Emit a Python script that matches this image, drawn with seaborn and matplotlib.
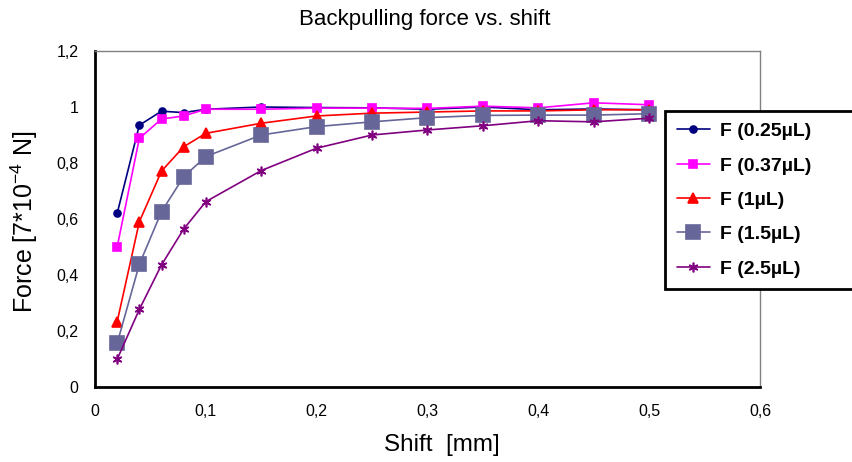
import numpy as np
import pandas as pd
import seaborn as sns
import matplotlib.pyplot as plt

# shift in mm
shift = [0.02, 0.04, 0.06, 0.08, 0.1, 0.15, 0.2, 0.25, 0.3, 0.35, 0.4, 0.45, 0.5]

f_025 = [0.62, 0.935, 0.985, 0.98, 0.992, 1.0, 0.998, 0.997, 0.992, 1.0, 0.99, 0.993, 0.99]
f_037 = [0.50, 0.888, 0.957, 0.968, 0.992, 0.992, 0.996, 0.996, 0.995, 1.003, 0.997, 1.015, 1.008]
f_1 = [0.233, 0.59, 0.771, 0.858, 0.906, 0.942, 0.968, 0.978, 0.982, 0.986, 0.986, 0.99, 0.99]
f_15 = [0.156, 0.438, 0.626, 0.751, 0.823, 0.90, 0.93, 0.947, 0.962, 0.97, 0.971, 0.971, 0.976]
f_25 = [0.099, 0.277, 0.436, 0.564, 0.662, 0.773, 0.853, 0.90, 0.918, 0.933, 0.951, 0.947, 0.96]

labels = ['F (0.25µL)', 'F (0.37µL)', 'F (1µL)', 'F (1.5µL)', 'F (2.5µL)']
colors = ['#000080', '#FF00FF', '#FF0000', '#666699', '#800080']
markers = ['o', 's', '^', 's', (6, 2, 0)]
msizes = [5, 6, 7, 10, 7]

xticks = [0, 0.1, 0.2, 0.3, 0.4, 0.5, 0.6]
xticklabels = ['0', '0,1', '0,2', '0,3', '0,4', '0,5', '0,6']
yticks = [0, 0.2, 0.4, 0.6, 0.8, 1.0, 1.2]
yticklabels = ['0', '0,2', '0,4', '0,6', '0,8', '1', '1,2']

sns.set_style('white')
plt.rcParams['font.family'] = ['Liberation Sans', 'DejaVu Sans']
plt.rcParams['text.color'] = 'black'
plt.rcParams['axes.labelcolor'] = 'black'
plt.rcParams['mathtext.fontset'] = 'custom'
plt.rcParams['mathtext.rm'] = 'Liberation Sans'
plt.rcParams['mathtext.it'] = 'Liberation Sans:italic'

fig = plt.figure(figsize=(8.53, 4.62), dpi=100)
ax = fig.add_axes([95 / 853, 1 - 387 / 462, 665 / 853, 336 / 462])

series = [f_025, f_037, f_1, f_15, f_25]
for vals, lab, col, mk, ms in zip(series, labels, colors, markers, msizes):
    df = pd.DataFrame({'shift': shift, 'force': vals})
    sns.lineplot(data=df, x='shift', y='force', ax=ax, color=col, marker=mk,
                 markersize=ms, markeredgecolor=col, markerfacecolor=col,
                 markeredgewidth=1.2, linewidth=1.2, label=lab)

ax.set_xlim(0, 0.6)
ax.set_ylim(0, 1.2)
ax.set_xticks(xticks)
ax.set_xticklabels(xticklabels)
ax.set_yticks(yticks)
ax.set_yticklabels(yticklabels)
ax.tick_params(axis='both', direction='out', length=5, width=1.5, colors='black',
               labelsize=11.5, pad=7)

for side in ['left', 'bottom']:
    ax.spines[side].set_color('black')
    ax.spines[side].set_linewidth(2)
for side in ['top', 'right']:
    ax.spines[side].set_color('#808080')
    ax.spines[side].set_linewidth(1)

ax.set_xlabel('Shift  [mm]', fontsize=17.5)
ax.xaxis.set_label_coords((442 - 95) / 665, -0.14)
ax.set_ylabel(r'Force [7*10$^{-4}$ N]', fontsize=18)
ax.yaxis.set_label_coords(-0.082, 0.49)
fig.text(425 / 853, 1 - 20 / 462, 'Backpulling force vs. shift', ha='center',
         va='center', fontsize=16)

leg = ax.legend(loc='upper left', mode='expand',
                bbox_to_anchor=(665 / 853, 1 - 111 / 462, 200 / 853, 0),
                bbox_transform=fig.transFigure, frameon=True, fancybox=False,
                prop={'weight': 'bold', 'size': 14}, handlelength=1.7,
                labelspacing=0.86, borderpad=0.6, handletextpad=0.55,
                borderaxespad=0)
leg.get_frame().set_edgecolor('black')
leg.get_frame().set_linewidth(2)
leg.get_frame().set_alpha(1)

fig.savefig('out.png', dpi=100)
